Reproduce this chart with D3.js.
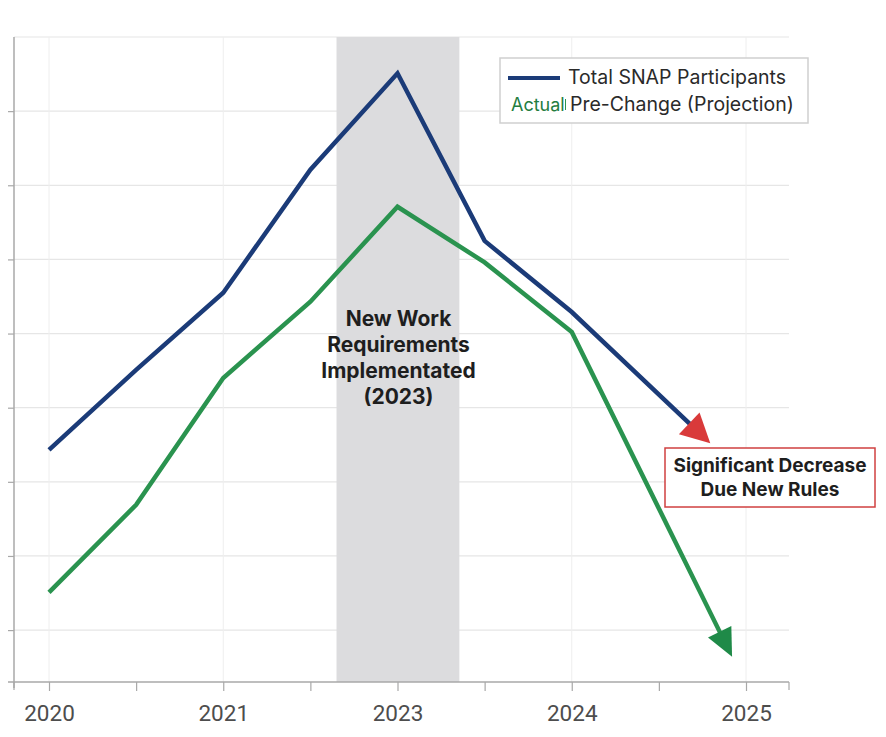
<!DOCTYPE html>
<html>
<head>
  <meta charset="utf-8">
  <title>SNAP Participants</title>
  <script src="https://d3js.org/d3.v7.min.js"></script>
  <style>
    body { margin: 0; background: #fff; }
    text { font-family: Inter, "Liberation Sans", sans-serif; }
  </style>
</head>
<body>
  <svg id="chart" width="886" height="737"></svg>

  <script>
    // x positions along the axis (step index), tick labels
    const tickIdx = [0, 1, 2, 3, 4, 5, 6, 7, 8];
    const tickLabels = ["2020", "", "2021", "", "2023", "", "2024", "", "2025"];
    const gridVals = [1, 2, 3, 4, 5, 6, 7, 8, 9];

    // Total SNAP Participants (blue)
    const totalX = [0, 1, 2, 3, 4, 5, 6, 7.59];
    const totalVals = [3.43, 4.51, 5.55, 7.21, 8.51, 6.25, 5.29, 3.52];

    // Actual | Pre-Change (Projection) (green)
    const actualX = [0, 1, 2, 3, 4, 5, 6, 7.84];
    const actualVals = [1.51, 2.69, 4.40, 5.43, 6.71, 5.96, 5.02, 0.64];

    // highlighted period
    const band = [3.3, 4.71];

    const svg = d3.select("#chart");

    const x = d3.scaleLinear().domain([0, 8]).range([49, 746]);
    const y = d3.scaleLinear().domain([0.3, 9]).range([682, 37]);
    const left = 14, right = 789;

    // grid
    svg.append("g").selectAll("line")
      .data(gridVals)
      .join("line")
      .attr("x1", left).attr("x2", right)
      .attr("y1", d => y(d)).attr("y2", d => y(d))
      .attr("stroke", "#e6e6e6").attr("stroke-width", 1.2);

    svg.append("g").selectAll("line")
      .data(tickIdx.filter(d => d % 2 === 0))
      .join("line")
      .attr("x1", d => x(d)).attr("x2", d => x(d))
      .attr("y1", y(9)).attr("y2", y(0.3))
      .attr("stroke", "#eeeeee").attr("stroke-width", 1);

    // shaded band
    svg.append("rect")
      .attr("x", x(band[0]))
      .attr("y", y(9))
      .attr("width", x(band[1]) - x(band[0]))
      .attr("height", y(0.3) - y(9))
      .attr("fill", "#dcdcde");

    // axes
    const axisColor = "#a8a8a8";
    const xAxis = svg.append("g")
      .attr("transform", `translate(0,${y(0.3)})`)
      .call(d3.axisBottom(x).tickValues(tickIdx).tickFormat(d => tickLabels[d]).tickSize(9).tickPadding(14));
    xAxis.select(".domain").remove();
    xAxis.append("line")
      .attr("x1", left - 6).attr("x2", right)
      .attr("stroke", axisColor).attr("stroke-width", 1.5);
    [left, right].forEach(px => {
      xAxis.append("line").attr("x1", px).attr("x2", px).attr("y1", 0).attr("y2", 8)
        .attr("stroke", axisColor).attr("stroke-width", 1.2);
    });
    xAxis.selectAll(".tick line").attr("stroke", axisColor).attr("stroke-width", 1.2);
    xAxis.selectAll(".tick text")
      .attr("fill", "#4d4d4d")
      .style("font-size", "22.5px")
      .style("font-family", "Roboto, sans-serif");

    const yAxis = svg.append("g")
      .attr("transform", `translate(${left},0)`)
      .call(d3.axisLeft(y).tickValues(gridVals.slice(0, 8)).tickFormat("").tickSize(6));
    yAxis.select(".domain").remove();
    yAxis.append("line")
      .attr("y1", y(9)).attr("y2", y(0.3) + 6)
      .attr("stroke", axisColor).attr("stroke-width", 1.5);
    yAxis.selectAll(".tick line").attr("stroke", axisColor).attr("stroke-width", 1.2);

    // lines with arrowheads
    function drawSeries(xs, vs, color, headColor, headLen, headHalf) {
      const pts = xs.map((d, i) => [x(d), y(vs[i])]);
      const n = pts.length;
      const tip = pts[n - 1], prev = pts[n - 2];
      const dx = tip[0] - prev[0], dy = tip[1] - prev[1];
      const len = Math.hypot(dx, dy);
      const ux = dx / len, uy = dy / len;
      const base = [tip[0] - ux * headLen, tip[1] - uy * headLen];
      const linePts = pts.slice(0, n - 1).concat([[base[0] + ux * 3, base[1] + uy * 3]]);

      svg.append("path")
        .attr("d", d3.line()(linePts))
        .attr("fill", "none")
        .attr("stroke", color)
        .attr("stroke-width", 4.5)
        .attr("stroke-linejoin", "miter");

      svg.append("path")
        .attr("d", d3.line()([
          tip,
          [base[0] - uy * headHalf, base[1] + ux * headHalf],
          [base[0] + uy * headHalf, base[1] - ux * headHalf]
        ]) + "Z")
        .attr("fill", headColor);
    }

    drawSeries(actualX, actualVals, "#2a934f", "#1f8a48", 28, 13);
    drawSeries(totalX, totalVals, "#1b3b78", "#d93a3a", 29, 15);

    // center annotation
    const note = svg.append("text")
      .attr("text-anchor", "middle")
      .attr("fill", "#1e1e1e")
      .style("font-size", "21px")
      .style("font-weight", "bold");
    ["New Work", "Requirements", "Implementated", "(2023)"].forEach((t, i) => {
      note.append("tspan").attr("x", x(4) + 1).attr("y", 326 + i * 26).text(t);
    });

    // decrease callout
    svg.append("rect")
      .attr("x", 665).attr("y", 448)
      .attr("width", 210).attr("height", 59)
      .attr("fill", "#fff")
      .attr("stroke", "#d04040").attr("stroke-width", 1.5);
    const callout = svg.append("text")
      .attr("text-anchor", "middle")
      .attr("fill", "#1e1e1e")
      .style("font-size", "19px")
      .style("font-weight", "bold");
    ["Significant Decrease", "Due New Rules"].forEach((t, i) => {
      callout.append("tspan").attr("x", 770).attr("y", 472 + i * 24).text(t);
    });

    // legend
    const lg = svg.append("g").attr("transform", "translate(500,58)");
    lg.append("rect")
      .attr("width", 308).attr("height", 65)
      .attr("fill", "#fff")
      .attr("stroke", "#cfcfcf").attr("stroke-width", 1.5);
    lg.append("line")
      .attr("x1", 8).attr("x2", 60).attr("y1", 20).attr("y2", 20)
      .attr("stroke", "#1b3b78").attr("stroke-width", 4);
    lg.append("text")
      .attr("x", 68).attr("y", 26)
      .attr("fill", "#2a2a2a")
      .style("font-size", "19.5px")
      .text("Total SNAP Participants");
    lg.append("text")
      .attr("x", 11).attr("y", 53)
      .attr("fill", "#237d3f")
      .style("font-size", "18px")
      .text("Actual");
    lg.append("line")
      .attr("x1", 65.5).attr("x2", 65.5).attr("y1", 41).attr("y2", 52)
      .attr("stroke", "#2a934f").attr("stroke-width", 1);
    lg.append("text")
      .attr("x", 70).attr("y", 53)
      .attr("fill", "#2a2a2a")
      .style("font-size", "19.5px")
      .text("Pre-Change (Projection)");
  </script>
</body>
</html>
